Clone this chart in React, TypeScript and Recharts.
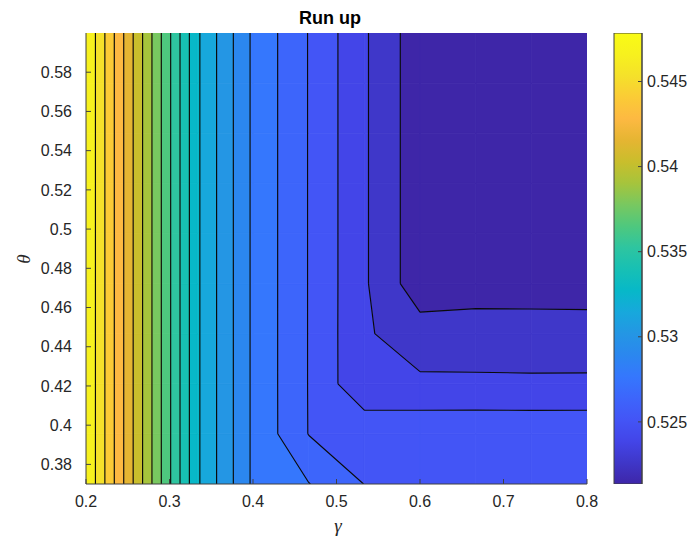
import { ScatterChart, Scatter, XAxis, YAxis, BarChart, Bar } from "recharts"

// grid of the contour plot
const gammaValues = [0.2, 0.2667, 0.3333, 0.4, 0.4667, 0.5333, 0.6, 0.6667, 0.7333, 0.8]
const thetaValues = [0.37, 0.3956, 0.4211, 0.4467, 0.4722, 0.4978, 0.5233, 0.5489, 0.5744, 0.6]

// run up, one row per theta value (bottom to top), one entry per gamma value
const runUpTheta0 = [0.54785, 0.5404, 0.5329, 0.5287, 0.5277, 0.52638, 0.5262, 0.5262, 0.5262, 0.5262]
const runUpTheta1 = [0.54785, 0.5404, 0.5329, 0.5287, 0.52636, 0.52612, 0.52607, 0.5262, 0.52622, 0.52624]
const runUpTheta2 = [0.54785, 0.5404, 0.5329, 0.5287, 0.52635, 0.52404, 0.52409, 0.52395, 0.52391, 0.5239]
const runUpTheta3 = [0.54785, 0.5404, 0.5329, 0.5287, 0.52635, 0.52403, 0.5232, 0.52362, 0.52374, 0.52378]
const runUpTheta4 = [0.54785, 0.5404, 0.5329, 0.5287, 0.52635, 0.52404, 0.52183, 0.5216, 0.52145, 0.52135]
const runUpTheta5 = [0.54785, 0.5404, 0.5329, 0.5287, 0.52635, 0.52404, 0.52183, 0.5216, 0.52145, 0.52135]
const runUpTheta6 = [0.54785, 0.5404, 0.5329, 0.5287, 0.52635, 0.52404, 0.52183, 0.5216, 0.52145, 0.52135]
const runUpTheta7 = [0.54785, 0.5404, 0.5329, 0.5287, 0.52635, 0.52404, 0.52183, 0.5216, 0.52145, 0.52135]
const runUpTheta8 = [0.54785, 0.5404, 0.5329, 0.5287, 0.52635, 0.52404, 0.52183, 0.5216, 0.52145, 0.52135]
const runUpTheta9 = [0.54785, 0.5404, 0.5329, 0.5287, 0.52635, 0.52404, 0.52183, 0.5216, 0.52145, 0.52135]

const gammaTicks = [0.2, 0.3, 0.4, 0.5, 0.6, 0.7, 0.8]
const thetaTicks = [0.38, 0.4, 0.42, 0.44, 0.46, 0.48, 0.5, 0.52, 0.54, 0.56, 0.58]
const colorbarTicks = [0.525, 0.53, 0.535, 0.54, 0.545]

// parula-like colormap stops (position, colour)
const parulaStops: [number, string][] = [
  [0.0, "#3e26a8"], [0.048, "#3f37c9"], [0.095, "#4345e8"], [0.143, "#4355f6"],
  [0.19, "#3d65fb"], [0.238, "#3577fd"], [0.286, "#2b87ef"], [0.333, "#2496e4"],
  [0.381, "#17a8dc"], [0.429, "#07b8c8"], [0.476, "#17c0b4"], [0.524, "#2ec5a0"],
  [0.571, "#4ec87e"], [0.619, "#78c860"], [0.667, "#a6c43c"], [0.714, "#c9be2c"],
  [0.762, "#e5b532"], [0.81, "#fdb942"], [0.857, "#fbcb36"], [0.905, "#f5e12a"],
  [0.952, "#f7f11e"], [1.0, "#f9fb15"],
]

const axisColor = "#404040"
const textColor = "#262626"

const grid = [runUpTheta0, runUpTheta1, runUpTheta2, runUpTheta3, runUpTheta4,
  runUpTheta5, runUpTheta6, runUpTheta7, runUpTheta8, runUpTheta9]
const allValues = grid.flat()
const zMin = Math.min(...allValues)
const zMax = Math.max(...allValues)
const levelCount = 20
const levels = Array.from({ length: levelCount }, (_, k) => zMin + ((k + 1) * (zMax - zMin)) / (levelCount + 1))

function hexToRgb(h: string) {
  return [1, 3, 5].map((i) => parseInt(h.slice(i, i + 2), 16))
}

function parula(t: number) {
  const c = Math.max(0, Math.min(1, t))
  for (let i = 1; i < parulaStops.length; i++) {
    const [t1, h1] = parulaStops[i]
    if (c <= t1) {
      const [t0, h0] = parulaStops[i - 1]
      const f = (c - t0) / (t1 - t0)
      const a = hexToRgb(h0)
      const b = hexToRgb(h1)
      const rgb = a.map((v, k) => Math.round(v + f * (b[k] - v)))
      return `rgb(${rgb[0]},${rgb[1]},${rgb[2]})`
    }
  }
  return parulaStops[parulaStops.length - 1][1]
}

type Vtx = { g: number; t: number; z: number }

function clipPoly(poly: Vtx[], level: number, keepAbove: boolean): Vtx[] {
  const out: Vtx[] = []
  const inside = (v: Vtx) => (keepAbove ? v.z >= level : v.z <= level)
  for (let a = 0; a < poly.length; a++) {
    const p = poly[a]
    const q = poly[(a + 1) % poly.length]
    const pin = inside(p)
    const qin = inside(q)
    if (pin) out.push(p)
    if (pin !== qin) {
      const f = (level - p.z) / (q.z - p.z)
      out.push({ g: p.g + f * (q.g - p.g), t: p.t + f * (q.t - p.t), z: level })
    }
  }
  return out
}

// filled bands and contour segments, cell by cell
const bandColors = [zMin, ...levels].map((v) => parula((v - zMin) / (zMax - zMin)))
const fillPolys: { pts: Vtx[]; color: string }[] = []
const segments: Vtx[][] = []

for (let j = 0; j < thetaValues.length - 1; j++) {
  for (let i = 0; i < gammaValues.length - 1; i++) {
    const cell: Vtx[] = [
      { g: gammaValues[i], t: thetaValues[j], z: grid[j][i] },
      { g: gammaValues[i + 1], t: thetaValues[j], z: grid[j][i + 1] },
      { g: gammaValues[i + 1], t: thetaValues[j + 1], z: grid[j + 1][i + 1] },
      { g: gammaValues[i], t: thetaValues[j + 1], z: grid[j + 1][i] },
    ]
    for (let k = 0; k <= levelCount; k++) {
      let poly = cell
      if (k > 0) poly = clipPoly(poly, levels[k - 1], true)
      if (k < levelCount && poly.length) poly = clipPoly(poly, levels[k], false)
      if (poly.length >= 3) fillPolys.push({ pts: poly, color: bandColors[k] })
    }
    for (const L of levels) {
      const cross: Vtx[] = []
      for (let a = 0; a < 4; a++) {
        const p = cell[a]
        const q = cell[(a + 1) % 4]
        if ((p.z - L) * (q.z - L) < 0) {
          const f = (L - p.z) / (q.z - p.z)
          cross.push({ g: p.g + f * (q.g - p.g), t: p.t + f * (q.t - p.t), z: L })
        }
      }
      if (cross.length >= 2) segments.push([cross[0], cross[1]])
      if (cross.length === 4) segments.push([cross[2], cross[3]])
    }
  }
}

const fillData = fillPolys.flatMap((p) => p.pts.map((v) => ({ g: v.g, t: v.t })))
const lineData = segments.flatMap((s) => s.map((v) => ({ g: v.g, t: v.t })))
const colorbarData = [{ name: "run up", span: [zMin, zMax] }]

const noPoint = () => <g />

const renderFills = (props: any) => {
  const pts = props.points || []
  let offset = 0
  return (
    <g>
      {fillPolys.map((p, n) => {
        const seg = pts.slice(offset, offset + p.pts.length)
        offset += p.pts.length
        return (
          <polygon
            key={n}
            points={seg.map((q: any) => `${q.x},${q.y}`).join(" ")}
            fill={p.color}
            stroke={p.color}
            strokeWidth={0.8}
          />
        )
      })}
    </g>
  )
}

const renderLines = (props: any) => {
  const pts = props.points || []
  let d = ""
  for (let i = 0; i + 1 < pts.length; i += 2) {
    d += `M${pts[i].x},${pts[i].y}L${pts[i + 1].x},${pts[i + 1].y}`
  }
  return <path d={d} fill="none" stroke="#0a0a0a" strokeWidth={1.15} />
}

const fmt = (v: number) => String(v)
const blank = () => ""
const layer = { position: "absolute" as const, left: 0, top: 0 }
const plotMargin = { top: 33, right: 13, bottom: 0, left: 0 }

// the axes are drawn a second time in a chart laid over the fills, so the inward ticks stay visible
function PlotAxes({ hidden }: { hidden: boolean }) {
  return (
    <>
      <XAxis
        type="number"
        dataKey="g"
        domain={[0.2, 0.8]}
        ticks={gammaTicks}
        tickFormatter={hidden ? blank : fmt}
        height={55}
        tickSize={-5}
        tickMargin={17}
        allowDataOverflow
        stroke={hidden ? "none" : axisColor}
        tick={{ fill: textColor, fontSize: 16 }}
      />
      <XAxis
        xAxisId="top"
        orientation="top"
        type="number"
        domain={[0.2, 0.8]}
        ticks={gammaTicks}
        tickFormatter={blank}
        height={0}
        tickSize={-5}
        allowDataOverflow
        stroke={hidden ? "none" : axisColor}
      />
      <YAxis
        type="number"
        dataKey="t"
        domain={[0.37, 0.6]}
        ticks={thetaTicks}
        tickFormatter={hidden ? blank : fmt}
        width={86}
        tickSize={-5}
        tickMargin={19}
        allowDataOverflow
        stroke={hidden ? "none" : axisColor}
        tick={{ fill: textColor, fontSize: 16 }}
      />
      <YAxis
        yAxisId="right"
        orientation="right"
        type="number"
        domain={[0.37, 0.6]}
        ticks={thetaTicks}
        tickFormatter={blank}
        width={0}
        tickSize={-5}
        allowDataOverflow
        stroke={hidden ? "none" : axisColor}
      />
    </>
  )
}

export default function App() {
  return (
    <div
      style={{
        ...layer,
        width: 688,
        height: 539,
        background: "#fff",
        fontFamily: '"Liberation Sans", Arial, sans-serif',
      }}
    >
      <div style={layer}>
        <ScatterChart width={600} height={539} margin={plotMargin}>
          {PlotAxes({ hidden: true })}
          <Scatter data={fillData} line={renderFills} shape={noPoint} isAnimationActive={false} legendType="none" />
          <Scatter data={lineData} line={renderLines} shape={noPoint} isAnimationActive={false} legendType="none" />
        </ScatterChart>
      </div>

      <div style={{ ...layer, pointerEvents: "none" }}>
        <ScatterChart width={600} height={539} margin={plotMargin}>
          {PlotAxes({ hidden: false })}
          <Scatter data={[]} shape={noPoint} isAnimationActive={false} legendType="none" />
        </ScatterChart>
      </div>

      <div style={{ ...layer, left: 600 }}>
        <BarChart
          width={88}
          height={539}
          data={colorbarData}
          margin={{ top: 33, right: 0, bottom: 55, left: 14 }}
          barCategoryGap={0}
          barGap={0}
        >
          <defs>
            <linearGradient id="parulaBar" x1="0" y1="1" x2="0" y2="0">
              {parulaStops.map(([t, c]) => (
                <stop key={t} offset={t} stopColor={c} />
              ))}
            </linearGradient>
          </defs>
          <XAxis dataKey="name" hide />
          <YAxis
            orientation="right"
            type="number"
            domain={[zMin, zMax]}
            ticks={colorbarTicks}
            tickFormatter={blank}
            width={46}
            tickSize={0}
            allowDataOverflow
            stroke="none"
          />
          <Bar dataKey="span" fill="url(#parulaBar)" stroke={axisColor} strokeWidth={1} isAnimationActive={false} />
        </BarChart>
      </div>

      <div style={{ ...layer, left: 600, pointerEvents: "none" }}>
        <BarChart
          width={88}
          height={539}
          data={colorbarData}
          margin={{ top: 33, right: 0, bottom: 55, left: 14 }}
          barCategoryGap={0}
        >
          <XAxis dataKey="name" hide />
          <YAxis
            orientation="right"
            type="number"
            domain={[zMin, zMax]}
            ticks={colorbarTicks}
            tickFormatter={fmt}
            width={46}
            tickSize={-4}
            tickMargin={9}
            allowDataOverflow
            stroke={axisColor}
            tick={{ fill: textColor, fontSize: 16 }}
          />
        </BarChart>
      </div>

      <svg width={688} height={539} style={{ ...layer, pointerEvents: "none" }}>
        <text x={330} y={23.5} textAnchor="middle" fontSize={18} fontWeight="bold" fill="#000">
          Run up
        </text>
        <text
          x={338}
          y={532}
          textAnchor="middle"
          fontSize={19}
          fontStyle="italic"
          fontFamily='"Liberation Serif", serif'
          fill={textColor}
        >
          γ
        </text>
        <text
          transform="translate(29.5,259) rotate(-90)"
          textAnchor="middle"
          fontSize={19}
          fontStyle="italic"
          fontFamily='"Liberation Serif", serif'
          fill={textColor}
        >
          θ
        </text>
      </svg>
    </div>
  )
}
